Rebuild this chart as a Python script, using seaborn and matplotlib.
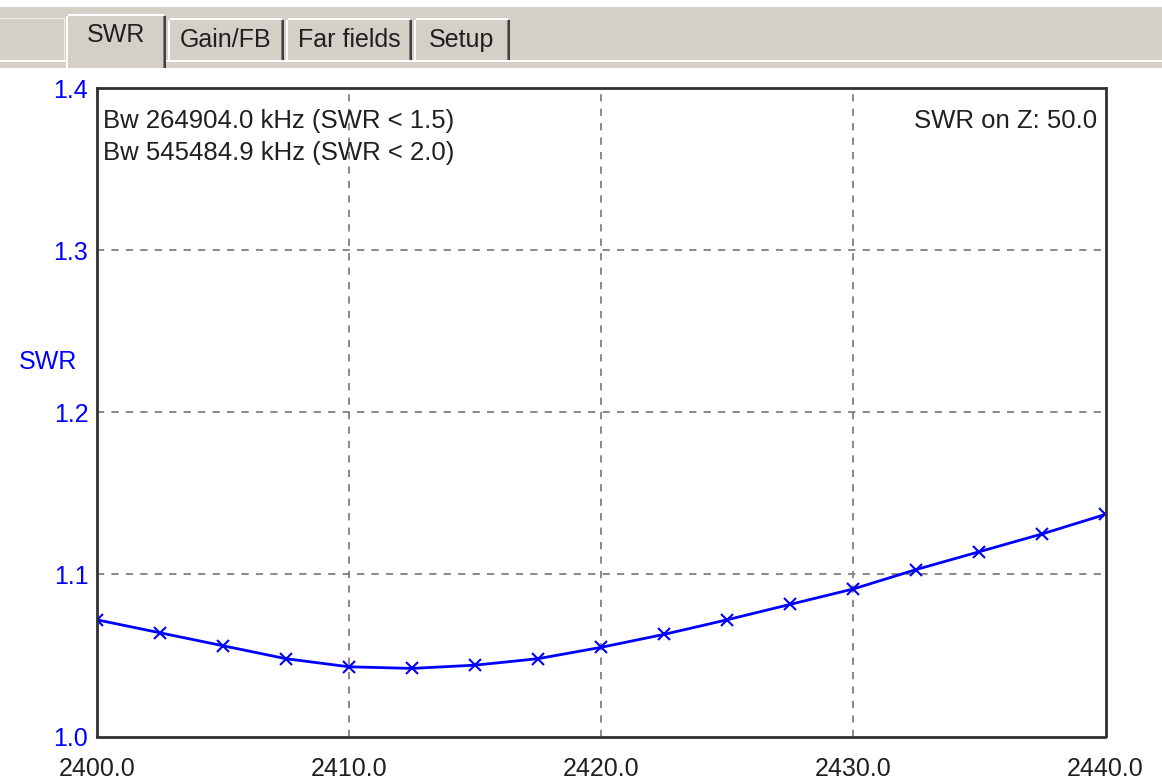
import matplotlib
matplotlib.use("Agg")
import matplotlib.pyplot as plt
import seaborn as sns
import pandas as pd
from matplotlib.patches import Rectangle

# ---- data ----
freq_mhz = [2400.0, 2402.5, 2405.0, 2407.5, 2410.0, 2412.5, 2415.0, 2417.5, 2420.0,
            2422.5, 2425.0, 2427.5, 2430.0, 2432.5, 2435.0, 2437.5, 2440.0]
swr = [1.072, 1.064, 1.056, 1.048, 1.043, 1.042, 1.044, 1.048, 1.055,
       1.063, 1.072, 1.0815, 1.091, 1.103, 1.114, 1.125, 1.137]
x_ticks = [2400.0, 2410.0, 2420.0, 2430.0, 2440.0]
y_ticks = [1.0, 1.1, 1.2, 1.3, 1.4]
tab_names = ["SWR", "Gain/FB", "Far fields", "Setup"]
bw_lines = ["Bw 264904.0 kHz (SWR < 1.5)", "Bw 545484.9 kHz (SWR < 2.0)"]
z_text = "SWR on Z: 50.0"

sns.set_style("white")
plt.rcParams['font.family'] = ['Liberation Sans', 'DejaVu Sans']

W, H = 1162, 782
fig = plt.figure(figsize=(W / 100, H / 100), dpi=100)
fig.patch.set_facecolor("white")


def rect(x, y, w, h, color):
    fig.patches.append(Rectangle((x / W, 1 - (y + h) / H), w / W, h / H,
                                 transform=fig.transFigure, facecolor=color,
                                 edgecolor="none"))


band = "#d4d0c8"
# tab band
rect(0, 7, W, 61, band)
rect(0, 60, W, 2, "white")
# left empty area outline
rect(0, 18, 65, 1, "#f0eee8")
rect(64, 18, 1, 42, "#f0eee8")

tabs = [(66, 14, 100), (168, 18, 116), (286, 18, 126), (414, 18, 96)]
for i, ((tx, ty, tw), name) in enumerate(zip(tabs, tab_names)):
    bottom = 68 if i == 0 else 60
    rect(tx, ty, tw, bottom - ty, band)
    rect(tx + 2, ty, tw - 4, 2, "white")
    rect(tx, ty + 2, 2, bottom - ty - 2, "white")
    rect(tx + tw - 2, ty + 2, 2, bottom - ty - 2, "#404040")
    rect(tx + tw - 3, ty + 2, 1, bottom - ty - 2, "#808080")
    cy = 35 if i == 0 else 40
    fig.text((tx + tw / 2) / W, 1 - cy / H, name, ha="center", va="center",
             fontsize=18, color="#202020")

# ---- plot ----
ax = fig.add_axes([96.7 / W, (782 - 736.5) / H, (1105.5 - 96.7) / W, (736.5 - 88) / H])
for xv in x_ticks[1:-1]:
    ax.axvline(xv, color="#808080", linestyle=(0, (4, 4)), linewidth=1.3, zorder=0)
for yv in y_ticks[1:-1]:
    ax.axhline(yv, color="#808080", linestyle=(0, (4, 4)), linewidth=1.3, zorder=0)

df = pd.DataFrame({"freq": freq_mhz, "swr": swr})
sns.lineplot(data=df, x="freq", y="swr", ax=ax, color="#0000ff", linewidth=2,
             marker="x", markersize=9, markeredgewidth=1.5, markeredgecolor="#0000ff")

ax.set_xlim(2400, 2440)
ax.set_ylim(1.0, 1.4)
ax.set_xticks(x_ticks)
ax.set_yticks(y_ticks)
ax.set_xticklabels([f"{v:.1f}" for v in x_ticks], fontsize=18, color="#202020")
ax.set_yticklabels([f"{v:.1f}" for v in y_ticks], fontsize=18, color="#0000ff")
ax.tick_params(axis="x", length=0, pad=15)
ax.tick_params(axis="y", length=0, pad=6)
ax.grid(False)
for s in ax.spines.values():
    s.set_visible(True)
    s.set_color("#303030")
    s.set_linewidth(2)
ax.set_xlabel("")
ax.set_ylabel("SWR", rotation=0, fontsize=18, color="#0000ff", ha="center", va="center")
ax.yaxis.set_label_coords(-0.0478, 0.577)

ax.text(0.006, 0.968, bw_lines[0], transform=ax.transAxes, ha="left", va="top",
        fontsize=18.5, color="#202020")
ax.text(0.006, 0.918, bw_lines[1], transform=ax.transAxes, ha="left", va="top",
        fontsize=18.5, color="#202020")
ax.text(0.9916, 0.968, z_text, transform=ax.transAxes, ha="right", va="top",
        fontsize=18.5, color="#202020")

fig.savefig("out.png", dpi=100)
